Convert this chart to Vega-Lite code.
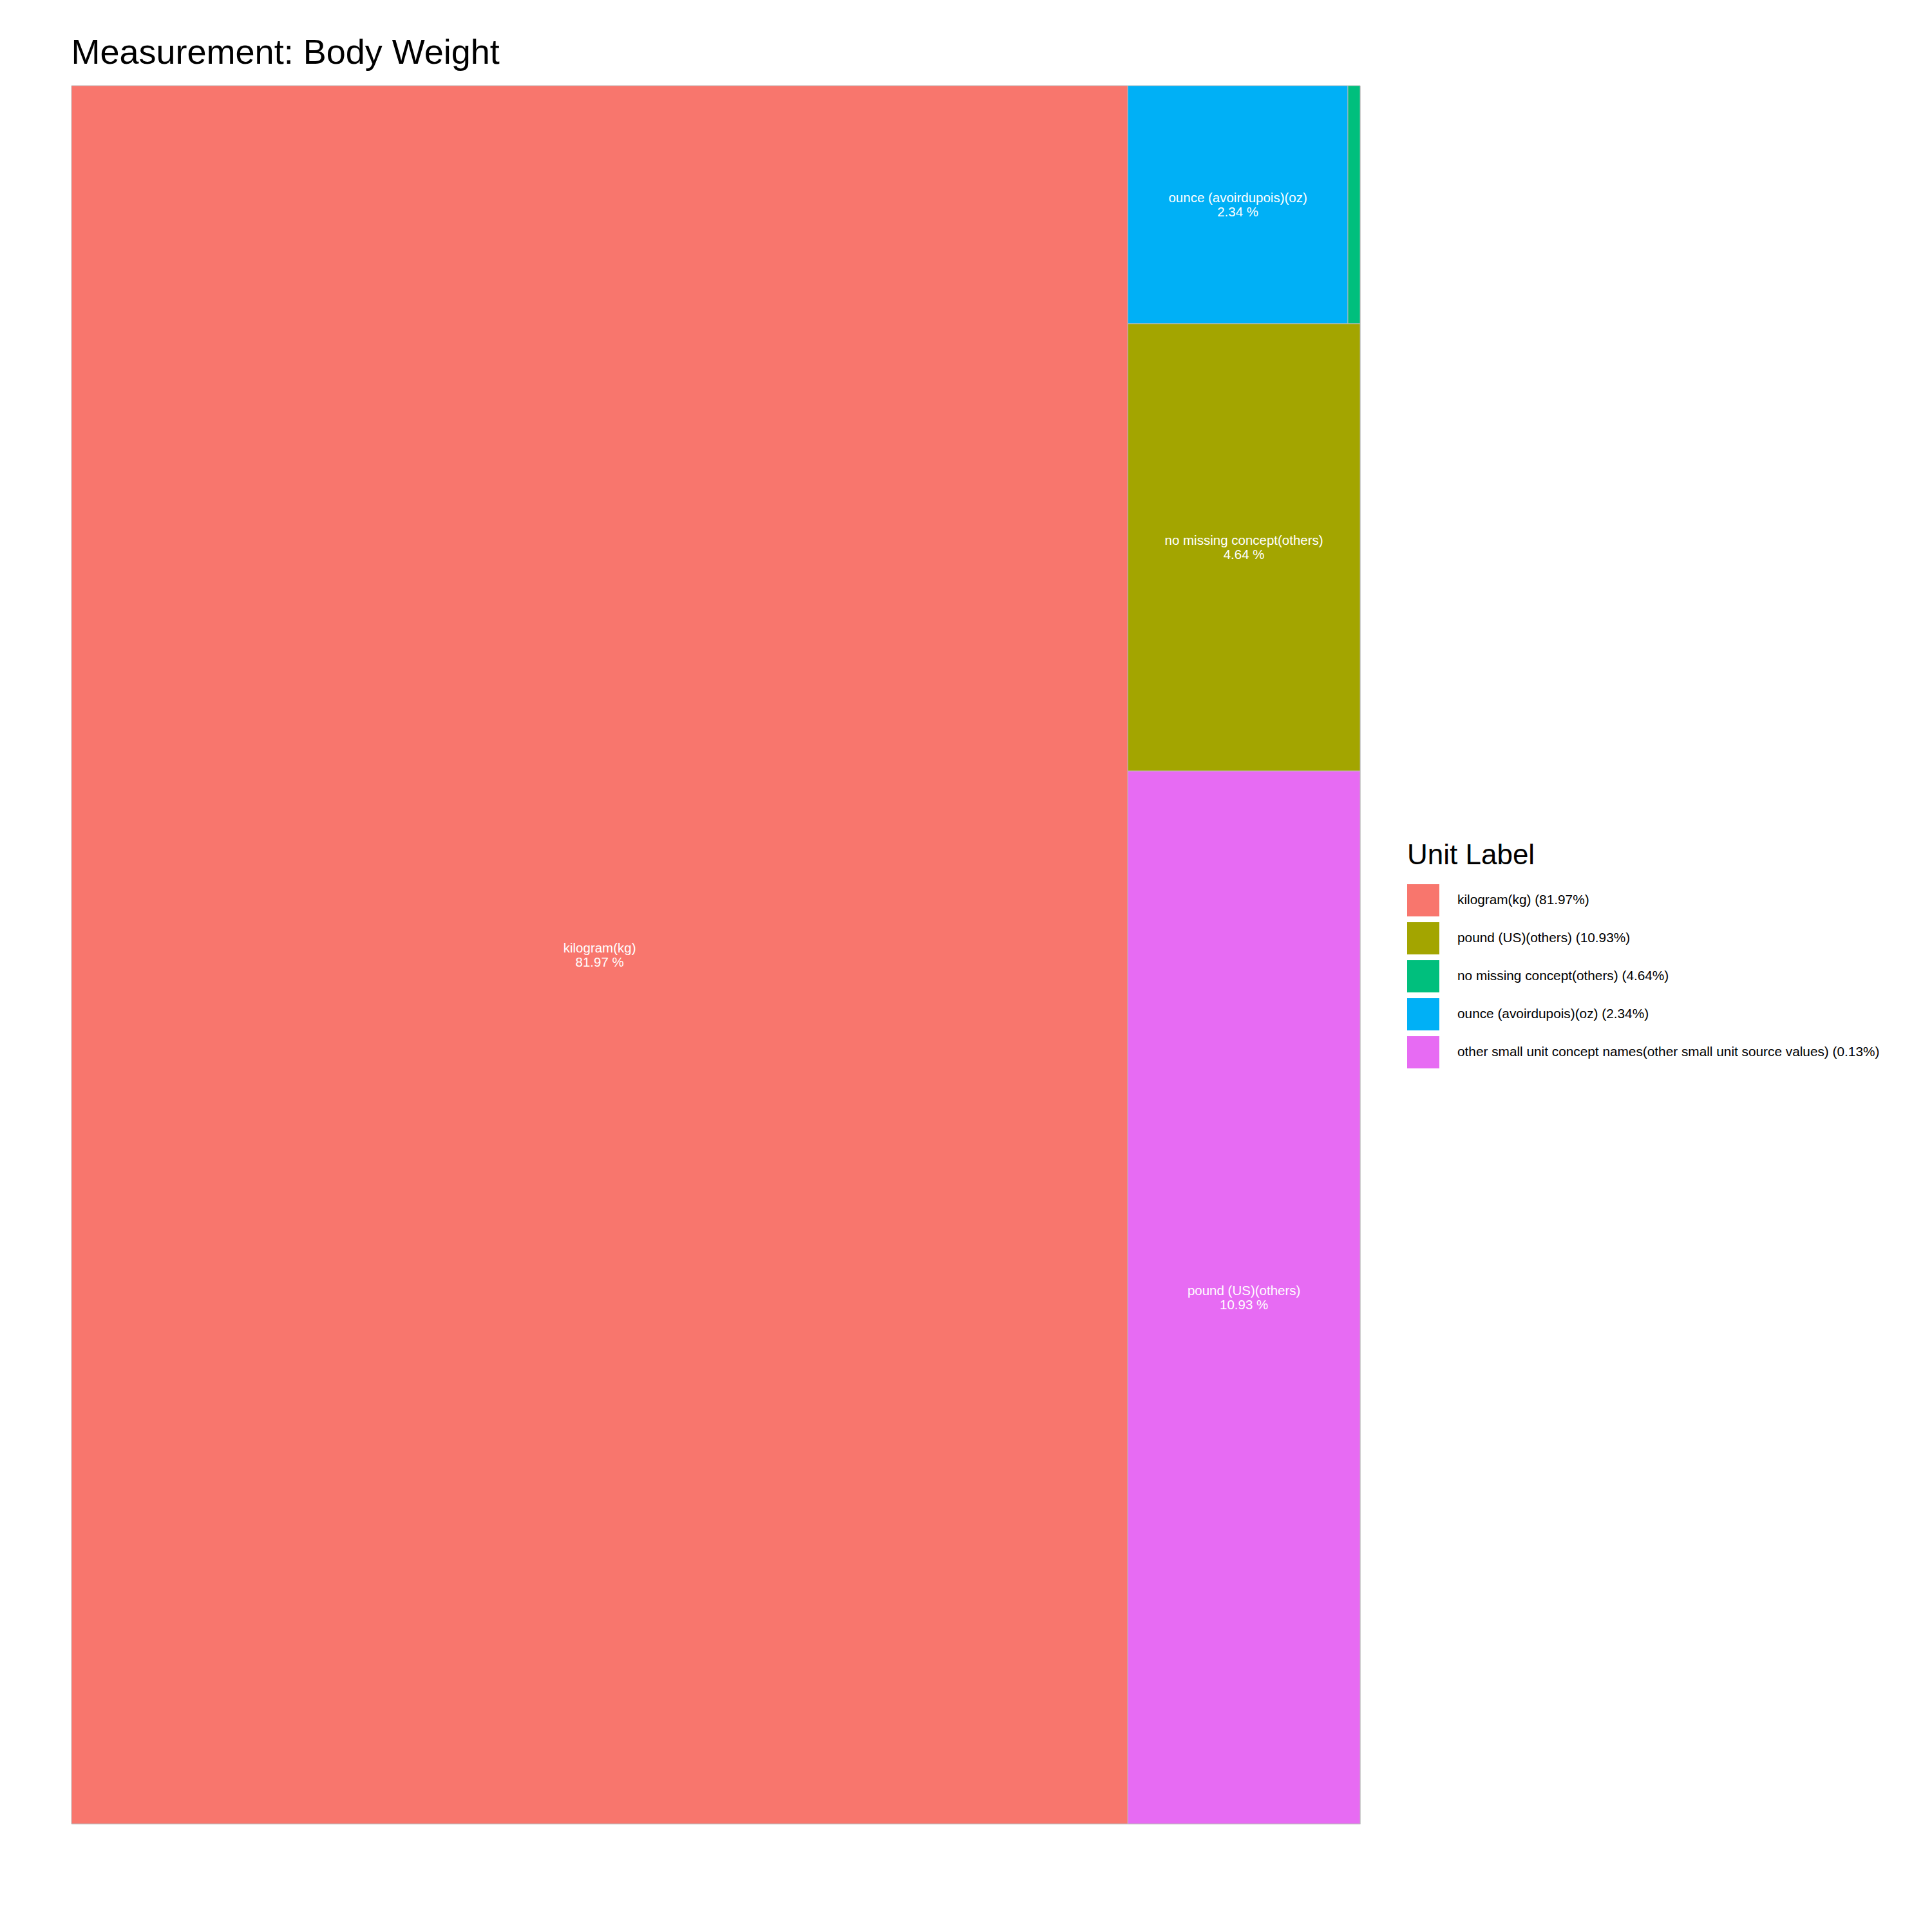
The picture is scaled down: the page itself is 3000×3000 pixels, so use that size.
{
  "$schema": "https://vega.github.io/schema/vega-lite/v6.json",
  "width": 2001,
  "height": 2699,
  "autosize": {"type": "none"},
  "padding": {"left": 111, "top": 133, "right": 888, "bottom": 168},
  "background": "white",
  "title": {
    "text": "Measurement: Body Weight",
    "anchor": "start",
    "font": "Liberation Sans",
    "fontSize": 54,
    "fontWeight": "normal",
    "color": "black",
    "baseline": "alphabetic",
    "offset": -20,
    "dx": 0
  },
  "data": {
    "values": [
      {"unit": "kilogram(kg)", "pct": 81.97, "legend_key": "kilogram(kg) (81.97%)", "x0": 0, "x1": 81.97, "y0": 0, "y1": 100, "show": true},
      {"unit": "ounce (avoirdupois)(oz)", "pct": 2.34, "legend_key": "ounce (avoirdupois)(oz) (2.34%)", "x0": 81.97, "x1": 99.05, "y0": 0, "y1": 13.7, "show": true},
      {"unit": "other small unit concept names(other small unit source values)", "pct": 0.13, "legend_key": "no missing concept(others) (4.64%)", "x0": 99.05, "x1": 100, "y0": 0, "y1": 13.7, "show": false},
      {"unit": "no missing concept(others)", "pct": 4.64, "legend_key": "pound (US)(others) (10.93%)", "x0": 81.97, "x1": 100, "y0": 13.7, "y1": 39.43, "show": true},
      {"unit": "pound (US)(others)", "pct": 10.93, "legend_key": "other small unit concept names(other small unit source values) (0.13%)", "x0": 81.97, "x1": 100, "y0": 39.43, "y1": 100, "show": true}
    ]
  },
  "layer": [
    {
      "mark": {"type": "rect", "stroke": "#bbbbbb", "strokeWidth": 1, "strokeOpacity": 0.9},
      "encoding": {
        "x": {"field": "x0", "type": "quantitative", "scale": {"domain": [0, 100], "nice": false, "zero": false}, "axis": null},
        "x2": {"field": "x1"},
        "y": {"field": "y0", "type": "quantitative", "scale": {"domain": [0, 100], "nice": false, "zero": false, "reverse": true}, "axis": null},
        "y2": {"field": "y1"},
        "color": {
          "field": "legend_key",
          "type": "nominal",
          "scale": {
            "domain": ["kilogram(kg) (81.97%)", "pound (US)(others) (10.93%)", "no missing concept(others) (4.64%)", "ounce (avoirdupois)(oz) (2.34%)", "other small unit concept names(other small unit source values) (0.13%)"],
            "range": ["#F8766D", "#A3A500", "#00BF7D", "#00B0F6", "#E76BF3"]
          },
          "legend": {
            "title": "Unit Label",
            "orient": "none",
            "legendX": 2074,
            "legendY": 1174,
            "titleFont": "Liberation Sans",
            "titleFontSize": 44,
            "titleFontWeight": "normal",
            "titleColor": "black",
            "titlePadding": 22,
            "titleLimit": 1000,
            "labelFont": "Liberation Sans",
            "labelFontSize": 20.8,
            "labelColor": "black",
            "labelLimit": 1000,
            "labelOffset": 28,
            "symbolType": "square",
            "symbolSize": 2500,
            "symbolStrokeWidth": 0,
            "symbolOpacity": 1,
            "rowPadding": 9
          }
        }
      }
    },
    {
      "transform": [
        {"filter": "datum.show"},
        {"calculate": "(datum.x0 + datum.x1) / 2", "as": "cx"},
        {"calculate": "(datum.y0 + datum.y1) / 2", "as": "cy"},
        {"calculate": "datum.unit + '\\n' + format(datum.pct, '.2f') + ' %'", "as": "label"}
      ],
      "mark": {"type": "text", "color": "white", "font": "Liberation Sans", "fontSize": 20.5, "lineHeight": 22, "lineBreak": "\n", "align": "center", "baseline": "middle", "dy": -10},
      "encoding": {
        "x": {"field": "cx", "type": "quantitative"},
        "y": {"field": "cy", "type": "quantitative"},
        "text": {"field": "label", "type": "nominal"}
      }
    }
  ]
}
